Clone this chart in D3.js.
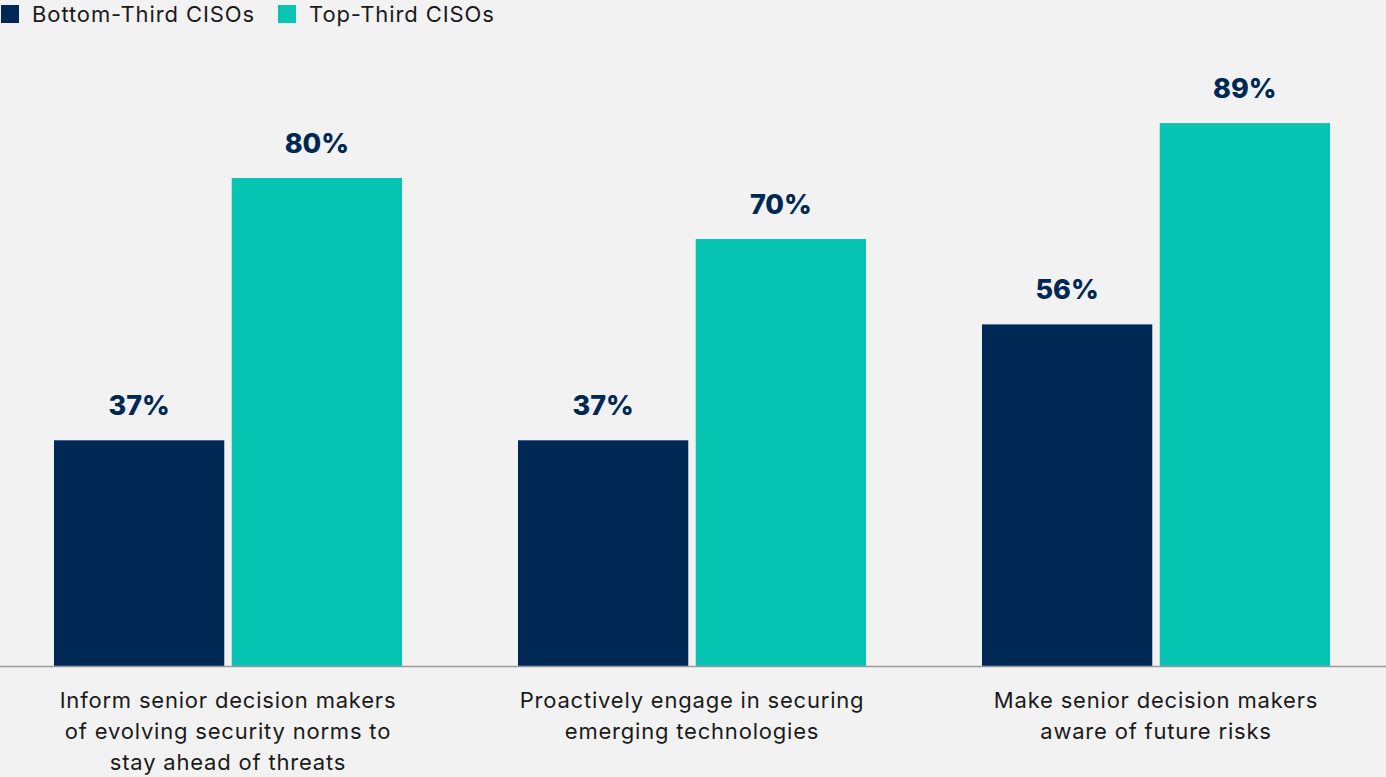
<!DOCTYPE html>
<html>
<head>
<meta charset="utf-8">
<script src="https://cdn.jsdelivr.net/npm/d3@7"></script>
<style>
  html, body { margin: 0; padding: 0; background: #f2f2f2; }
  svg { display: block; }
</style>
</head>
<body>
<div id="chart"></div>
<script>
// Data
var categories = [
  ['Inform senior decision makers', 'of evolving security norms to', 'stay ahead of threats'],
  ['Proactively engage in securing', 'emerging technologies'],
  ['Make senior decision makers', 'aware of future risks']
];
var seriesNames = ['Bottom-Third CISOs', 'Top-Third CISOs'];
var bottomThird = [37, 37, 56];
var topThird = [80, 70, 89];
var colors = ['#002855', '#07c4b3'];

var width = 1386,
    height = 777,
    baseY = 666;

var svg = d3.select('#chart')
  .append('svg')
    .attr('width', width)
    .attr('height', height);

svg.append('rect')
  .attr('width', width)
  .attr('height', height)
  .attr('fill', '#f2f2f2');

// Scales
var x0 = d3.scaleBand()
  .domain(d3.range(categories.length))
  .range([-4, 1388])
  .paddingInner(0.25)
  .paddingOuter(0.125);

var x1 = d3.scaleBand()
  .domain([0, 1])
  .range([0, x0.bandwidth()])
  .paddingInner(0.042);

var y = d3.scaleLinear()
  .domain([0, 100])
  .range([baseY, 56]);

var rows = categories.map(function(c, i) {
  return [bottomThird[i], topThird[i]];
});

// Bars
var groups = svg.selectAll('.group')
  .data(rows)
  .enter().append('g')
    .attr('class', 'group')
    .attr('transform', function(d, i) { return 'translate(' + Math.round(x0(i)) + ',0)'; });

groups.selectAll('rect')
  .data(function(d) { return d; })
  .enter().append('rect')
    .attr('x', function(d, j) { return x1(j); })
    .attr('y', function(d) { return y(d); })
    .attr('width', x1.bandwidth())
    .attr('height', function(d) { return y(0) - y(d); })
    .attr('fill', function(d, j) { return colors[j]; });

groups.selectAll('.val')
  .data(function(d) { return d; })
  .enter().append('text')
    .attr('class', 'val')
    .attr('x', function(d, j) { return x1(j) + x1.bandwidth() / 2; })
    .attr('y', function(d) { return y(d) - 25; })
    .attr('text-anchor', 'middle')
    .style('font-family', 'Inter, sans-serif')
    .style('font-weight', 800)
    .style('font-size', '27px')
    .style('fill', '#002855')
    .text(function(d) { return d + '%'; });

// Baseline
svg.append('line')
  .attr('x1', 0)
  .attr('x2', width)
  .attr('y1', baseY + 0.5)
  .attr('y2', baseY + 0.5)
  .attr('stroke', '#9a9a9a')
  .attr('stroke-width', 1.5);

// Category labels
var labels = svg.selectAll('.cat')
  .data(categories)
  .enter().append('text')
    .attr('class', 'cat')
    .attr('x', function(d, i) { return x0(i) + x0.bandwidth() / 2; })
    .attr('y', 708)
    .attr('text-anchor', 'middle')
    .style('font-family', 'Inter, sans-serif')
    .style('font-size', '22px')
    .style('letter-spacing', '0.8px')
    .style('fill', '#1a1a1a');

labels.selectAll('tspan')
  .data(function(d) { return d; })
  .enter().append('tspan')
    .attr('x', function() { return d3.select(this.parentNode).attr('x'); })
    .attr('dy', function(d, i) { return i === 0 ? 0 : 31; })
    .text(function(d) { return d; });

// Legend
var legendX = [1, 278];
var legend = svg.selectAll('.legend')
  .data(seriesNames)
  .enter().append('g')
    .attr('class', 'legend')
    .attr('transform', function(d, i) { return 'translate(' + legendX[i] + ',5)'; });

legend.append('rect')
  .attr('width', 18)
  .attr('height', 18)
  .attr('fill', function(d, i) { return colors[i]; });

legend.append('text')
  .attr('x', 31)
  .attr('y', 17)
  .style('font-family', 'Inter, sans-serif')
  .style('font-size', '22px')
  .style('letter-spacing', '0.9px')
  .style('fill', '#1a1a1a')
  .text(function(d) { return d; });
</script>
</body>
</html>
